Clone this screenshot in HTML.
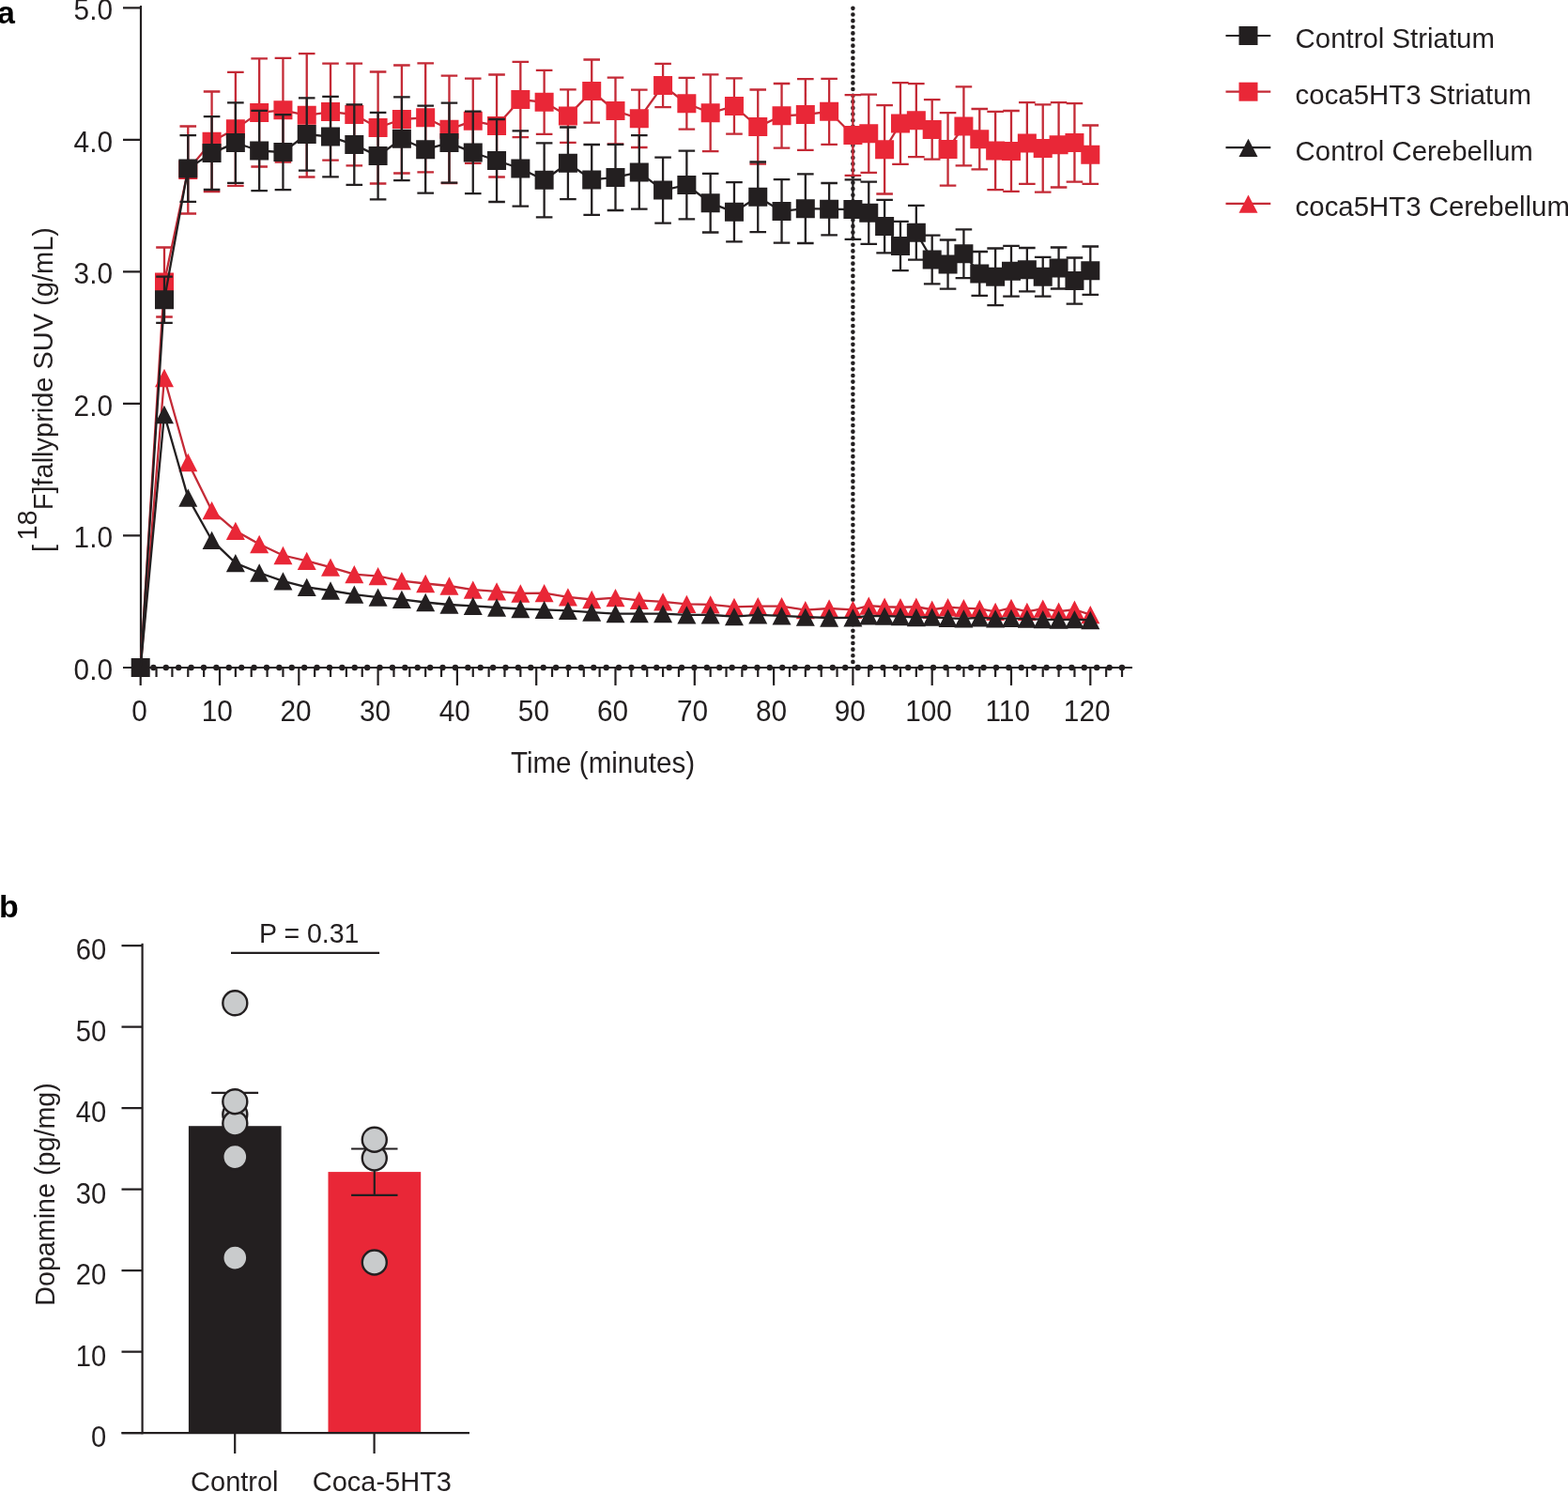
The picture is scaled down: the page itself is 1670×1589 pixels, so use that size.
<!DOCTYPE html>
<html><head><meta charset="utf-8"><title>Figure</title>
<style>
html,body{margin:0;padding:0;background:#fff;}
body{width:1670px;height:1589px;overflow:hidden;}
svg{display:block;}
text{font-family:"Liberation Sans",Arial,sans-serif;fill:#231f20;}
</style></head><body>
<svg width="1670" height="1589" viewBox="0 0 1670 1589">
<rect width="1670" height="1589" fill="#fff"/>

<text x="-3" y="25" font-size="34" font-weight="bold" style="fill:#000">a</text>
<line x1="150" y1="711" x2="1195.5" y2="711" stroke="#231f20" stroke-width="6.4" stroke-linecap="round" stroke-dasharray="0 13.397"/>
<line x1="908.4" y1="8.87" x2="908.4" y2="705.5" stroke="#231f20" stroke-width="4.6" stroke-linecap="round" stroke-dasharray="0 6.629"/>
<path fill="none" stroke="#231f20" stroke-width="2.2" d="M150 6V712M131 711H1206" />
<path fill="none" stroke="#231f20" stroke-width="2.2" d="M131 711H150M131 570.46H150M131 429.92H150M131 289.38H150M131 148.84H150M131 8.3H150M149.7 711v19M166.56 711v10M183.42 711v10M200.28 711v10M217.14 711v10M234 711v19M250.86 711v10M267.72 711v10M284.58 711v10M301.44 711v10M318.3 711v19M335.16 711v10M352.02 711v10M368.88 711v10M385.74 711v10M402.6 711v19M419.46 711v10M436.32 711v10M453.18 711v10M470.04 711v10M486.9 711v19M503.76 711v10M520.62 711v10M537.48 711v10M554.34 711v10M571.2 711v19M588.06 711v10M604.92 711v10M621.78 711v10M638.64 711v10M655.5 711v19M672.36 711v10M689.22 711v10M706.08 711v10M722.94 711v10M739.8 711v19M756.66 711v10M773.52 711v10M790.38 711v10M807.24 711v10M824.1 711v19M840.96 711v10M857.82 711v10M874.68 711v10M891.54 711v10M908.4 711v19M925.26 711v10M942.12 711v10M958.98 711v10M975.84 711v10M992.7 711v19M1009.56 711v10M1026.42 711v10M1043.28 711v10M1060.14 711v10M1077 711v19M1093.86 711v10M1110.72 711v10M1127.58 711v10M1144.44 711v10M1161.3 711v19M1178.16 711v10M1195.02 711v10"/>
<text transform="translate(120,724) scale(1,1.055)" font-size="29.8" text-anchor="end">0.0</text>
<text transform="translate(120,583.46) scale(1,1.055)" font-size="29.8" text-anchor="end">1.0</text>
<text transform="translate(120,442.92) scale(1,1.055)" font-size="29.8" text-anchor="end">2.0</text>
<text transform="translate(120,302.38) scale(1,1.055)" font-size="29.8" text-anchor="end">3.0</text>
<text transform="translate(120,161.84) scale(1,1.055)" font-size="29.8" text-anchor="end">4.0</text>
<text transform="translate(120,21.3) scale(1,1.055)" font-size="29.8" text-anchor="end">5.0</text>
<text transform="translate(148.5,767.6) scale(1,1.055)" font-size="29.8" text-anchor="middle">0</text>
<text transform="translate(231.2,767.6) scale(1,1.055)" font-size="29.8" text-anchor="middle">10</text>
<text transform="translate(315.1,767.6) scale(1,1.055)" font-size="29.8" text-anchor="middle">20</text>
<text transform="translate(399.6,767.6) scale(1,1.055)" font-size="29.8" text-anchor="middle">30</text>
<text transform="translate(484.2,767.6) scale(1,1.055)" font-size="29.8" text-anchor="middle">40</text>
<text transform="translate(568.4,767.6) scale(1,1.055)" font-size="29.8" text-anchor="middle">50</text>
<text transform="translate(652.5,767.6) scale(1,1.055)" font-size="29.8" text-anchor="middle">60</text>
<text transform="translate(737.5,767.6) scale(1,1.055)" font-size="29.8" text-anchor="middle">70</text>
<text transform="translate(821.5,767.6) scale(1,1.055)" font-size="29.8" text-anchor="middle">80</text>
<text transform="translate(905.2,767.6) scale(1,1.055)" font-size="29.8" text-anchor="middle">90</text>
<text transform="translate(989,767.6) scale(1,1.055)" font-size="29.8" text-anchor="middle">100</text>
<text transform="translate(1073.2,767.6) scale(1,1.055)" font-size="29.8" text-anchor="middle">110</text>
<text transform="translate(1157.7,767.6) scale(1,1.055)" font-size="29.8" text-anchor="middle">120</text>
<text transform="translate(642,823.3) scale(1,1.035)" font-size="29.6" text-anchor="middle">Time (minutes)</text>
<text transform="translate(55.7,588.1) rotate(-90) scale(1,1.03)" font-size="29">[<tspan dx="4.5" dy="-16">18</tspan><tspan dy="16">F]fallypride SUV (g/mL)</tspan></text>
<path fill="none" stroke="#c42a36" stroke-width="2.3" d="M174.99 263.5V337.5M166.19 263.5H183.79M166.19 337.5H183.79M200.28 134.5V227.5M191.48 134.5H209.08M191.48 227.5H209.08M225.57 97.5V204.1M216.77 97.5H234.37M216.77 204.1H234.37M250.86 76.8V197.8M242.06 76.8H259.66M242.06 197.8H259.66M276.15 62.3V177.5M267.35 62.3H284.95M267.35 177.5H284.95M301.44 61.9V172.7M292.64 61.9H310.24M292.64 172.7H310.24M326.73 57.1V188.5M317.93 57.1H335.53M317.93 188.5H335.53M352.02 67.6V170.6M343.22 67.6H360.82M343.22 170.6H360.82M377.31 67.7V176.3M368.51 67.7H386.11M368.51 176.3H386.11M402.6 76.5V195.5M393.8 76.5H411.4M393.8 195.5H411.4M427.89 69.5V184.5M419.09 69.5H436.69M419.09 184.5H436.69M453.18 67.3V183.3M444.38 67.3H461.98M444.38 183.3H461.98M478.47 80.6V195M469.67 80.6H487.27M469.67 195H487.27M503.76 83.6V173.8M494.96 83.6H512.56M494.96 173.8H512.56M529.05 79.5V188.5M520.25 79.5H537.85M520.25 188.5H537.85M554.34 65.9V146.1M545.54 65.9H563.14M545.54 146.1H563.14M579.63 74.8V142.8M570.83 74.8H588.43M570.83 142.8H588.43M604.92 95.4V151.8M596.12 95.4H613.72M596.12 151.8H613.72M630.21 63.5V130.7M621.41 63.5H639.01M621.41 130.7H639.01M655.5 82.7V153.3M646.7 82.7H664.3M646.7 153.3H664.3M680.79 95.6V157M671.99 95.6H689.59M671.99 157H689.59M706.08 67.9V114.1M697.28 67.9H714.88M697.28 114.1H714.88M731.37 82.9V137.7M722.57 82.9H740.17M722.57 137.7H740.17M756.66 79.3V161.1M747.86 79.3H765.46M747.86 161.1H765.46M781.95 83.4V142.6M773.15 83.4H790.75M773.15 142.6H790.75M807.24 95.5V174.7M798.44 95.5H816.04M798.44 174.7H816.04M832.53 89V157.6M823.73 89H841.33M823.73 157.6H841.33M857.82 84.2V159.8M849.02 84.2H866.62M849.02 159.8H866.62M883.11 83.8V153.8M874.31 83.8H891.91M874.31 153.8H891.91M908.4 101.2V186.8M899.6 101.2H917.2M899.6 186.8H917.2M925.26 100.7V183.9M916.46 100.7H934.06M916.46 183.9H934.06M942.12 112.1V206.5M933.32 112.1H950.92M933.32 206.5H950.92M958.98 88.1V174.9M950.18 88.1H967.78M950.18 174.9H967.78M975.84 89.2V167.2M967.04 89.2H984.64M967.04 167.2H984.64M992.7 106.2V169.6M983.9 106.2H1001.5M983.9 169.6H1001.5M1009.56 120.1V197.7M1000.76 120.1H1018.36M1000.76 197.7H1018.36M1026.42 92.4V176.4M1017.62 92.4H1035.22M1017.62 176.4H1035.22M1043.28 116V180.4M1034.48 116H1052.08M1034.48 180.4H1052.08M1060.14 118.8V202.2M1051.34 118.8H1068.94M1051.34 202.2H1068.94M1077 118V203.8M1068.2 118H1085.8M1068.2 203.8H1085.8M1093.86 109.1V195.9M1085.06 109.1H1102.66M1085.06 195.9H1102.66M1110.72 111.3V204.7M1101.92 111.3H1119.52M1101.92 204.7H1119.52M1127.58 109.1V199.5M1118.78 109.1H1136.38M1118.78 199.5H1136.38M1144.44 110.2V193.6M1135.64 110.2H1153.24M1135.64 193.6H1153.24M1161.3 133.5V195.9M1152.5 133.5H1170.1M1152.5 195.9H1170.1"/>
<polyline fill="none" stroke="#c42a36" stroke-width="2.3" stroke-linejoin="round" points="149.7,711 174.99,300.5 200.28,181 225.57,150.8 250.86,137.3 276.15,119.9 301.44,117.3 326.73,122.8 352.02,119.1 377.31,122 402.6,136 427.89,127 453.18,125.3 478.47,137.8 503.76,128.7 529.05,134 554.34,106 579.63,108.8 604.92,123.6 630.21,97.1 655.5,118 680.79,126.3 706.08,91 731.37,110.3 756.66,120.2 781.95,113 807.24,135.1 832.53,123.3 857.82,122 883.11,118.8 908.4,144 925.26,142.3 942.12,159.3 958.98,131.5 975.84,128.2 992.7,137.9 1009.56,158.9 1026.42,134.4 1043.28,148.2 1060.14,160.5 1077,160.9 1093.86,152.5 1110.72,158 1127.58,154.3 1144.44,151.9 1161.3,164.7"/>
<path fill="#e92737" d="M164.99 290.5h20v20h-20zM190.28 171h20v20h-20zM215.57 140.8h20v20h-20zM240.86 127.3h20v20h-20zM266.15 109.9h20v20h-20zM291.44 107.3h20v20h-20zM316.73 112.8h20v20h-20zM342.02 109.1h20v20h-20zM367.31 112h20v20h-20zM392.6 126h20v20h-20zM417.89 117h20v20h-20zM443.18 115.3h20v20h-20zM468.47 127.8h20v20h-20zM493.76 118.7h20v20h-20zM519.05 124h20v20h-20zM544.34 96h20v20h-20zM569.63 98.8h20v20h-20zM594.92 113.6h20v20h-20zM620.21 87.1h20v20h-20zM645.5 108h20v20h-20zM670.79 116.3h20v20h-20zM696.08 81h20v20h-20zM721.37 100.3h20v20h-20zM746.66 110.2h20v20h-20zM771.95 103h20v20h-20zM797.24 125.1h20v20h-20zM822.53 113.3h20v20h-20zM847.82 112h20v20h-20zM873.11 108.8h20v20h-20zM898.4 134h20v20h-20zM915.26 132.3h20v20h-20zM932.12 149.3h20v20h-20zM948.98 121.5h20v20h-20zM965.84 118.2h20v20h-20zM982.7 127.9h20v20h-20zM999.56 148.9h20v20h-20zM1016.42 124.4h20v20h-20zM1033.28 138.2h20v20h-20zM1050.14 150.5h20v20h-20zM1067 150.9h20v20h-20zM1083.86 142.5h20v20h-20zM1100.72 148h20v20h-20zM1117.58 144.3h20v20h-20zM1134.44 141.9h20v20h-20zM1151.3 154.7h20v20h-20z"/>
<polyline fill="none" stroke="#c42a36" stroke-width="2.3" stroke-linejoin="round" points="149.7,711 174.99,402.5 200.28,492.5 225.57,543.7 250.86,565.3 276.15,579.5 301.44,591.5 326.73,597.4 352.02,604.2 377.31,611.6 402.6,613.6 427.89,618.7 453.18,621.5 478.47,624 503.76,628.1 529.05,629.8 554.34,632 579.63,631.7 604.92,635.9 630.21,638.5 655.5,636.7 680.79,639.4 706.08,640.8 731.37,643.3 756.66,643.8 781.95,646.3 807.24,645.7 832.53,645.7 857.82,649.7 883.11,648 908.4,649.3 925.26,645.05 942.12,646.25 958.98,646.75 975.84,646.25 992.7,649.25 1009.56,646.75 1026.42,647.65 1043.28,648.35 1060.14,651.45 1077,647.45 1093.86,651.45 1110.72,648.05 1127.58,651.15 1144.44,649.25 1161.3,654.55"/>
<path fill="#e92737" d="M174.99 392.85L184.99 412.15L164.99 412.15zM200.28 482.85L210.28 502.15L190.28 502.15zM225.57 534.05L235.57 553.35L215.57 553.35zM250.86 555.65L260.86 574.95L240.86 574.95zM276.15 569.85L286.15 589.15L266.15 589.15zM301.44 581.85L311.44 601.15L291.44 601.15zM326.73 587.75L336.73 607.05L316.73 607.05zM352.02 594.55L362.02 613.85L342.02 613.85zM377.31 601.95L387.31 621.25L367.31 621.25zM402.6 603.95L412.6 623.25L392.6 623.25zM427.89 609.05L437.89 628.35L417.89 628.35zM453.18 611.85L463.18 631.15L443.18 631.15zM478.47 614.35L488.47 633.65L468.47 633.65zM503.76 618.45L513.76 637.75L493.76 637.75zM529.05 620.15L539.05 639.45L519.05 639.45zM554.34 622.35L564.34 641.65L544.34 641.65zM579.63 622.05L589.63 641.35L569.63 641.35zM604.92 626.25L614.92 645.55L594.92 645.55zM630.21 628.85L640.21 648.15L620.21 648.15zM655.5 627.05L665.5 646.35L645.5 646.35zM680.79 629.75L690.79 649.05L670.79 649.05zM706.08 631.15L716.08 650.45L696.08 650.45zM731.37 633.65L741.37 652.95L721.37 652.95zM756.66 634.15L766.66 653.45L746.66 653.45zM781.95 636.65L791.95 655.95L771.95 655.95zM807.24 636.05L817.24 655.35L797.24 655.35zM832.53 636.05L842.53 655.35L822.53 655.35zM857.82 640.05L867.82 659.35L847.82 659.35zM883.11 638.35L893.11 657.65L873.11 657.65zM908.4 639.65L918.4 658.95L898.4 658.95zM925.26 635.4L935.26 654.7L915.26 654.7zM942.12 636.6L952.12 655.9L932.12 655.9zM958.98 637.1L968.98 656.4L948.98 656.4zM975.84 636.6L985.84 655.9L965.84 655.9zM992.7 639.6L1002.7 658.9L982.7 658.9zM1009.56 637.1L1019.56 656.4L999.56 656.4zM1026.42 638L1036.42 657.3L1016.42 657.3zM1043.28 638.7L1053.28 658L1033.28 658zM1060.14 641.8L1070.14 661.1L1050.14 661.1zM1077 637.8L1087 657.1L1067 657.1zM1093.86 641.8L1103.86 661.1L1083.86 661.1zM1110.72 638.4L1120.72 657.7L1100.72 657.7zM1127.58 641.5L1137.58 660.8L1117.58 660.8zM1144.44 639.6L1154.44 658.9L1134.44 658.9zM1161.3 644.9L1171.3 664.2L1151.3 664.2z"/>
<path fill="none" stroke="#231f20" stroke-width="2.3" d="M174.99 294.6V343.8M166.19 294.6H183.79M166.19 343.8H183.79M200.28 144.1V214.9M191.48 144.1H209.08M191.48 214.9H209.08M225.57 124.2V202M216.77 124.2H234.37M216.77 202H234.37M250.86 109.4V194.8M242.06 109.4H259.66M242.06 194.8H259.66M276.15 117.9V203.1M267.35 117.9H284.95M267.35 203.1H284.95M301.44 122.1V202.1M292.64 122.1H310.24M292.64 202.1H310.24M326.73 104.3V181.7M317.93 104.3H335.53M317.93 181.7H335.53M352.02 102.9V188.3M343.22 102.9H360.82M343.22 188.3H360.82M377.31 111.4V196.8M368.51 111.4H386.11M368.51 196.8H386.11M402.6 119.8V212.4M393.8 119.8H411.4M393.8 212.4H411.4M427.89 103.3V192.1M419.09 103.3H436.69M419.09 192.1H436.69M453.18 112.7V205.7M444.38 112.7H461.98M444.38 205.7H461.98M478.47 109.6V194.6M469.67 109.6H487.27M469.67 194.6H487.27M503.76 118.7V206.1M494.96 118.7H512.56M494.96 206.1H512.56M529.05 127V215M520.25 127H537.85M520.25 215H537.85M554.34 139.3V219.7M545.54 139.3H563.14M545.54 219.7H563.14M579.63 152.3V231.3M570.83 152.3H588.43M570.83 231.3H588.43M604.92 135.5V212.1M596.12 135.5H613.72M596.12 212.1H613.72M630.21 154V228.8M621.41 154H639.01M621.41 228.8H639.01M655.5 153.8V224M646.7 153.8H664.3M646.7 224H664.3M680.79 144.1V222.7M671.99 144.1H689.59M671.99 222.7H689.59M706.08 167.6V237.6M697.28 167.6H714.88M697.28 237.6H714.88M731.37 160.7V233.3M722.57 160.7H740.17M722.57 233.3H740.17M756.66 184.9V247.5M747.86 184.9H765.46M747.86 247.5H765.46M781.95 194.2V257.4M773.15 194.2H790.75M773.15 257.4H790.75M807.24 172.5V247.1M798.44 172.5H816.04M798.44 247.1H816.04M832.53 191.1V258.7M823.73 191.1H841.33M823.73 258.7H841.33M857.82 185.4V259M849.02 185.4H866.62M849.02 259H866.62M883.11 195V250.4M874.31 195H891.91M874.31 250.4H891.91M908.4 191.4V254.8M899.6 191.4H917.2M899.6 254.8H917.2M925.26 193.7V259.9M916.46 193.7H934.06M916.46 259.9H934.06M942.12 212.8V269.4M933.32 212.8H950.92M933.32 269.4H950.92M958.98 235.8V288.2M950.18 235.8H967.78M950.18 288.2H967.78M975.84 218.8V276.6M967.04 218.8H984.64M967.04 276.6H984.64M992.7 250.7V302.3M983.9 250.7H1001.5M983.9 302.3H1001.5M1009.56 255.5V307.7M1000.76 255.5H1018.36M1000.76 307.7H1018.36M1026.42 244.3V296.1M1017.62 244.3H1035.22M1017.62 296.1H1035.22M1043.28 268V314.8M1034.48 268H1052.08M1034.48 314.8H1052.08M1060.14 264.5V325.1M1051.34 264.5H1068.94M1051.34 325.1H1068.94M1077 261.8V315.6M1068.2 261.8H1085.8M1068.2 315.6H1085.8M1093.86 264V310.4M1085.06 264H1102.66M1085.06 310.4H1102.66M1110.72 273.9V315.7M1101.92 273.9H1119.52M1101.92 315.7H1119.52M1127.58 263.5V307.5M1118.78 263.5H1136.38M1118.78 307.5H1136.38M1144.44 274.5V323.7M1135.64 274.5H1153.24M1135.64 323.7H1153.24M1161.3 262.5V313.9M1152.5 262.5H1170.1M1152.5 313.9H1170.1"/>
<polyline fill="none" stroke="#231f20" stroke-width="2.3" stroke-linejoin="round" points="149.7,711 174.99,319.2 200.28,179.5 225.57,163.1 250.86,152.1 276.15,160.5 301.44,162.1 326.73,143 352.02,145.6 377.31,154.1 402.6,166.1 427.89,147.7 453.18,159.2 478.47,152.1 503.76,162.4 529.05,171 554.34,179.5 579.63,191.8 604.92,173.8 630.21,191.4 655.5,188.9 680.79,183.4 706.08,202.6 731.37,197 756.66,216.2 781.95,225.8 807.24,209.8 832.53,224.9 857.82,222.2 883.11,222.7 908.4,223.1 925.26,226.8 942.12,241.1 958.98,262 975.84,247.7 992.7,276.5 1009.56,281.6 1026.42,270.2 1043.28,291.4 1060.14,294.8 1077,288.7 1093.86,287.2 1110.72,294.8 1127.58,285.5 1144.44,299.1 1161.3,288.2"/>
<path fill="#231f20" d="M139.7 701h20v20h-20zM164.99 309.2h20v20h-20zM190.28 169.5h20v20h-20zM215.57 153.1h20v20h-20zM240.86 142.1h20v20h-20zM266.15 150.5h20v20h-20zM291.44 152.1h20v20h-20zM316.73 133h20v20h-20zM342.02 135.6h20v20h-20zM367.31 144.1h20v20h-20zM392.6 156.1h20v20h-20zM417.89 137.7h20v20h-20zM443.18 149.2h20v20h-20zM468.47 142.1h20v20h-20zM493.76 152.4h20v20h-20zM519.05 161h20v20h-20zM544.34 169.5h20v20h-20zM569.63 181.8h20v20h-20zM594.92 163.8h20v20h-20zM620.21 181.4h20v20h-20zM645.5 178.9h20v20h-20zM670.79 173.4h20v20h-20zM696.08 192.6h20v20h-20zM721.37 187h20v20h-20zM746.66 206.2h20v20h-20zM771.95 215.8h20v20h-20zM797.24 199.8h20v20h-20zM822.53 214.9h20v20h-20zM847.82 212.2h20v20h-20zM873.11 212.7h20v20h-20zM898.4 213.1h20v20h-20zM915.26 216.8h20v20h-20zM932.12 231.1h20v20h-20zM948.98 252h20v20h-20zM965.84 237.7h20v20h-20zM982.7 266.5h20v20h-20zM999.56 271.6h20v20h-20zM1016.42 260.2h20v20h-20zM1033.28 281.4h20v20h-20zM1050.14 284.8h20v20h-20zM1067 278.7h20v20h-20zM1083.86 277.2h20v20h-20zM1100.72 284.8h20v20h-20zM1117.58 275.5h20v20h-20zM1134.44 289.1h20v20h-20zM1151.3 278.2h20v20h-20z"/>
<polyline fill="none" stroke="#231f20" stroke-width="2.3" stroke-linejoin="round" points="149.7,711 174.99,441.5 200.28,530.1 225.57,575.3 250.86,599.7 276.15,610 301.44,618.8 326.73,625.3 352.02,629 377.31,633.2 402.6,636.1 427.89,638.3 453.18,641.5 478.47,644 503.76,645.3 529.05,647 554.34,648.5 579.63,649.4 604.92,650.4 630.21,652.2 655.5,653.6 680.79,653.6 706.08,653.6 731.37,654.8 756.66,654.9 781.95,656.6 807.24,654.9 832.53,655.9 857.82,657.1 883.11,658 908.4,657.8 925.26,655.8 942.12,656.1 958.98,656.6 975.84,657.5 992.7,657.2 1009.56,658.4 1026.42,658.9 1043.28,657.8 1060.14,658.9 1077,658.4 1093.86,659.2 1110.72,659.6 1127.58,660.1 1144.44,659.6 1161.3,660.5"/>
<path fill="#231f20" d="M174.99 431.85L184.99 451.15L164.99 451.15zM200.28 520.45L210.28 539.75L190.28 539.75zM225.57 565.65L235.57 584.95L215.57 584.95zM250.86 590.05L260.86 609.35L240.86 609.35zM276.15 600.35L286.15 619.65L266.15 619.65zM301.44 609.15L311.44 628.45L291.44 628.45zM326.73 615.65L336.73 634.95L316.73 634.95zM352.02 619.35L362.02 638.65L342.02 638.65zM377.31 623.55L387.31 642.85L367.31 642.85zM402.6 626.45L412.6 645.75L392.6 645.75zM427.89 628.65L437.89 647.95L417.89 647.95zM453.18 631.85L463.18 651.15L443.18 651.15zM478.47 634.35L488.47 653.65L468.47 653.65zM503.76 635.65L513.76 654.95L493.76 654.95zM529.05 637.35L539.05 656.65L519.05 656.65zM554.34 638.85L564.34 658.15L544.34 658.15zM579.63 639.75L589.63 659.05L569.63 659.05zM604.92 640.75L614.92 660.05L594.92 660.05zM630.21 642.55L640.21 661.85L620.21 661.85zM655.5 643.95L665.5 663.25L645.5 663.25zM680.79 643.95L690.79 663.25L670.79 663.25zM706.08 643.95L716.08 663.25L696.08 663.25zM731.37 645.15L741.37 664.45L721.37 664.45zM756.66 645.25L766.66 664.55L746.66 664.55zM781.95 646.95L791.95 666.25L771.95 666.25zM807.24 645.25L817.24 664.55L797.24 664.55zM832.53 646.25L842.53 665.55L822.53 665.55zM857.82 647.45L867.82 666.75L847.82 666.75zM883.11 648.35L893.11 667.65L873.11 667.65zM908.4 648.15L918.4 667.45L898.4 667.45zM925.26 646.15L935.26 665.45L915.26 665.45zM942.12 646.45L952.12 665.75L932.12 665.75zM958.98 646.95L968.98 666.25L948.98 666.25zM975.84 647.85L985.84 667.15L965.84 667.15zM992.7 647.55L1002.7 666.85L982.7 666.85zM1009.56 648.75L1019.56 668.05L999.56 668.05zM1026.42 649.25L1036.42 668.55L1016.42 668.55zM1043.28 648.15L1053.28 667.45L1033.28 667.45zM1060.14 649.25L1070.14 668.55L1050.14 668.55zM1077 648.75L1087 668.05L1067 668.05zM1093.86 649.55L1103.86 668.85L1083.86 668.85zM1110.72 649.95L1120.72 669.25L1100.72 669.25zM1127.58 650.45L1137.58 669.75L1117.58 669.75zM1144.44 649.95L1154.44 669.25L1134.44 669.25zM1161.3 650.85L1171.3 670.15L1151.3 670.15z"/>
<line x1="1305.5" y1="38" x2="1353.3" y2="38" stroke="#231f20" stroke-width="2.2"/>
<rect x="1319.5" y="28" width="20" height="20" fill="#231f20"/>
<text transform="translate(1379.6,51.4) scale(1,1.03)" font-size="29.4">Control Striatum</text>
<line x1="1305.5" y1="97.7" x2="1353.3" y2="97.7" stroke="#c42a36" stroke-width="2.2"/>
<rect x="1319.5" y="87.7" width="20" height="20" fill="#e92737"/>
<text transform="translate(1379.6,111.1) scale(1,1.03)" font-size="29.4">coca5HT3 Striatum</text>
<line x1="1305.5" y1="157.2" x2="1353.3" y2="157.2" stroke="#231f20" stroke-width="2.2"/>
<path fill="#231f20" d="M1329.5 147.8L1339.5 167.1L1319.5 167.1z"/>
<text transform="translate(1379.6,170.6) scale(1,1.03)" font-size="29.4">Control Cerebellum</text>
<line x1="1305.5" y1="216.8" x2="1353.3" y2="216.8" stroke="#c42a36" stroke-width="2.2"/>
<path fill="#e92737" d="M1329.5 207.4L1339.5 226.7L1319.5 226.7z"/>
<text transform="translate(1379.6,230.2) scale(1,1.03)" font-size="29.4">coca5HT3 Cerebellum</text>
<text x="-1" y="977.2" font-size="34" font-weight="bold" style="fill:#000">b</text>
<rect x="200.9" y="1199.23" width="98.7" height="326.97" fill="#231f20"/>
<rect x="349.5" y="1248.1" width="98.7" height="278.1" fill="#e92737"/>
<path fill="none" stroke="#231f20" stroke-width="2.2" d="M250.2 1163.8V1235M225.2 1163.8H275.1M398.8 1223.5V1272.8M374.1 1223.5H423.5M374.1 1272.8H423.5"/>
<path fill="none" stroke="#231f20" stroke-width="2.2" d="M151.6 1004.8V1527.5M129.5 1526.2H500M250.2 1526V1548M398.6 1526V1548"/>
<path fill="none" stroke="#231f20" stroke-width="2.2" d="M129.5 1526.2H151.6M129.5 1439.7H151.6M129.5 1353.2H151.6M129.5 1266.7H151.6M129.5 1180.2H151.6M129.5 1093.7H151.6M129.5 1007.2H151.6"/>
<text transform="translate(113.3,1541.2) scale(1,1.075)" font-size="29.2" text-anchor="end">0</text>
<text transform="translate(113.3,1454.7) scale(1,1.075)" font-size="29.2" text-anchor="end">10</text>
<text transform="translate(113.3,1368.2) scale(1,1.075)" font-size="29.2" text-anchor="end">20</text>
<text transform="translate(113.3,1281.7) scale(1,1.075)" font-size="29.2" text-anchor="end">30</text>
<text transform="translate(113.3,1195.2) scale(1,1.075)" font-size="29.2" text-anchor="end">40</text>
<text transform="translate(113.3,1108.7) scale(1,1.075)" font-size="29.2" text-anchor="end">50</text>
<text transform="translate(113.3,1022.2) scale(1,1.075)" font-size="29.2" text-anchor="end">60</text>
<text transform="translate(57.7,1390.8) rotate(-90) scale(1,1.03)" font-size="28.7">Dopamine (pg/mg)</text>
<text transform="translate(249.8,1588) scale(1,1.03)" font-size="29" text-anchor="middle">Control</text>
<text transform="translate(406.9,1588) scale(1,1.03)" font-size="29" text-anchor="middle">Coca-5HT3</text>
<line x1="246" y1="1014.9" x2="404.1" y2="1014.9" stroke="#231f20" stroke-width="2.2"/>
<text transform="translate(329.2,1003.8) scale(1,1.06)" font-size="28.5" text-anchor="middle">P = 0.31</text>
<circle cx="250.3" cy="1068.3" r="13" fill="#c9cbcc" stroke="#231f20" stroke-width="2.4"/>
<circle cx="250.3" cy="1186.7" r="13" fill="#c9cbcc" stroke="#231f20" stroke-width="2.4"/>
<circle cx="250.3" cy="1196.4" r="13" fill="#c9cbcc" stroke="#231f20" stroke-width="2.4"/>
<circle cx="250.3" cy="1173.2" r="13" fill="#c9cbcc" stroke="#231f20" stroke-width="2.4"/>
<circle cx="250.3" cy="1232.1" r="13" fill="#c9cbcc" stroke="#231f20" stroke-width="2.4"/>
<circle cx="250.3" cy="1339.6" r="13" fill="#c9cbcc" stroke="#231f20" stroke-width="2.4"/>
<circle cx="398.8" cy="1233.5" r="13" fill="#c9cbcc" stroke="#231f20" stroke-width="2.4"/>
<circle cx="398.8" cy="1213.7" r="13" fill="#c9cbcc" stroke="#231f20" stroke-width="2.4"/>
<circle cx="398.8" cy="1344.5" r="13" fill="#c9cbcc" stroke="#231f20" stroke-width="2.4"/>
</svg>
</body></html>
